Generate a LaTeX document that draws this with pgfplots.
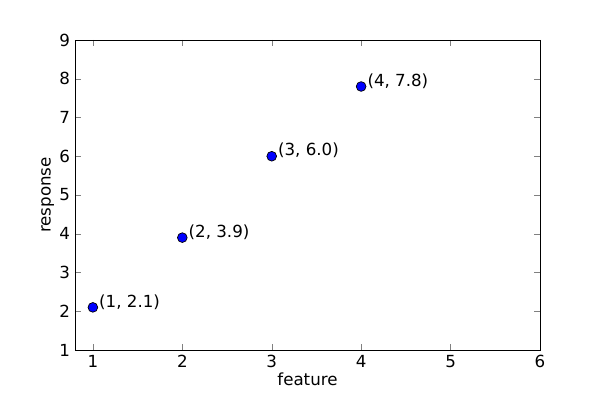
\documentclass[border=0pt]{standalone}
\usepackage{pgfplots}
\pgfplotsset{compat=1.18}
\usepackage{fontspec}
\setmainfont{DejaVu Sans}
\begin{document}
\begin{tikzpicture}
\useasboundingbox (-54pt,-36pt) rectangle (378pt,252pt);
\begin{axis}[at={(0,0)},anchor=south west,scale only axis,
 width=334.8pt,height=223.2pt,
 xmin=0.8,xmax=6,ymin=1,ymax=9,
 xtick={1,...,6},ytick={1,...,9},
 tick align=inside,tick pos=both,
 major tick length=4pt,
 tick label style={font=\fontsize{12}{14}\selectfont},
 label style={font=\fontsize{12}{14}\selectfont},
 /pgf/number format/assume math mode=true,
 xlabel={feature},ylabel={response},
 xlabel style={yshift=3pt},ylabel style={yshift=-3pt},
 axis line style={black,line width=0.6pt}]
\addplot[only marks,mark=*,mark size=3.5pt,mark options={fill=blue,draw=black,line width=0.5pt},
 nodes near coords,point meta=explicit symbolic,
 every node near coord/.append style={anchor=west,xshift=1pt,yshift=4pt,font=\fontsize{12}{14}\selectfont,black}]
 table[meta=l,col sep=semicolon]{
x;y;l
1;2.1;(1, 2.1)
2;3.9;(2, 3.9)
3;6.0;(3, 6.0)
4;7.8;(4, 7.8)
};
\end{axis}
\end{tikzpicture}
\end{document}
